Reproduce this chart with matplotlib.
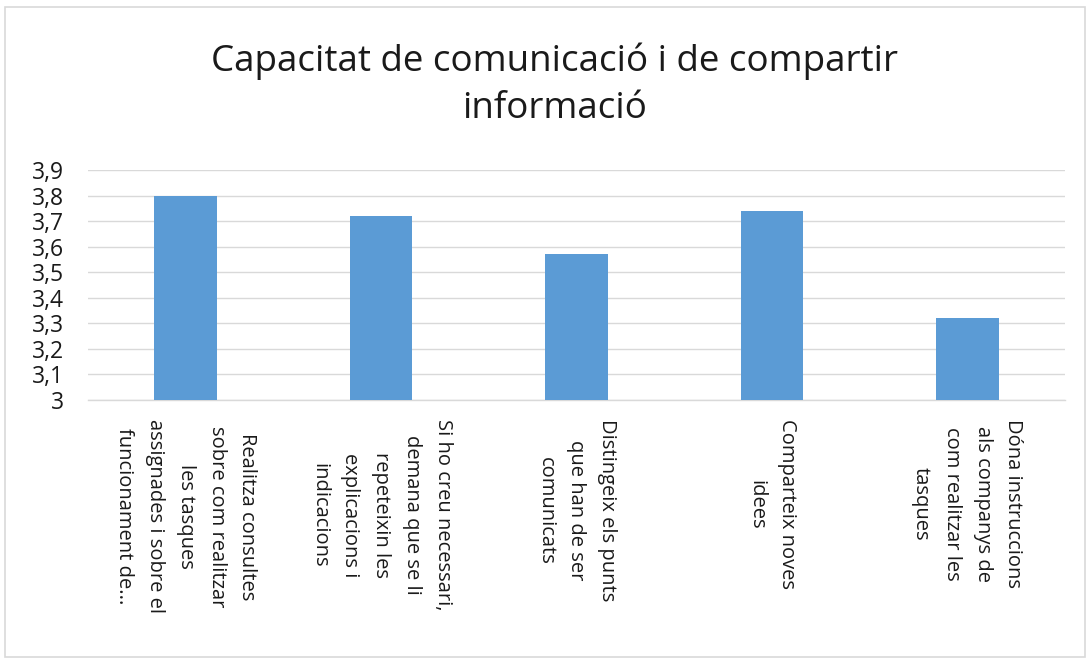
import matplotlib
matplotlib.use("Agg")
import matplotlib.pyplot as plt
from matplotlib.patches import Rectangle
from matplotlib.ticker import FuncFormatter

plt.rcParams['font.family'] = ['Open Sans', 'DejaVu Sans']

title = "Capacitat de comunicació i de compartir\ninformació"
categories = [
    "Realitza consultes\nsobre com realitzar\nles tasques\nassignades i sobre el\nfuncionament de...",
    "Si ho creu necessari,\ndemana que se li\nrepeteixin les\nexplicacions i\nindicacions",
    "Distingeix els punts\nque han de ser\ncomunicats",
    "Comparteix noves\nidees",
    "Dóna instruccions\nals companys de\ncom realitzar les\ntasques",
]
values = [3.80, 3.72, 3.57, 3.74, 3.32]
yticks = [3.0, 3.1, 3.2, 3.3, 3.4, 3.5, 3.6, 3.7, 3.8, 3.9]

fig = plt.figure(figsize=(10.9, 6.62), dpi=100)
fig.patches.append(Rectangle((5/1090, 5/662), 1080/1090, 650/662, transform=fig.transFigure,
                             fill=False, edgecolor='#d9d9d9', linewidth=1.2))
ax = fig.add_axes([88/1090, 1 - 400/662, (1065 - 88)/1090, 230/662])

x = range(len(categories))
ax.bar(x, values, width=0.32, color='#5b9bd5', zorder=3)
ax.set_ylim(3, 3.9)
ax.set_xlim(-0.5, len(categories) - 0.5)
ax.set_yticks(yticks)
ax.yaxis.set_major_formatter(FuncFormatter(lambda v, p: ("%g" % round(v, 1)).replace('.', ',')))
ax.grid(axis='y', color='#d9d9d9', linewidth=1.0, zorder=0)
for s in ['top', 'right', 'left']:
    ax.spines[s].set_visible(False)
ax.spines['bottom'].set_color('#d9d9d9')
ax.spines['bottom'].set_linewidth(1.0)
ax.tick_params(axis='y', length=0, pad=17, labelsize=16.5, labelcolor='#1a1a1a')
ax.tick_params(axis='x', length=0, pad=14)
ax.set_xticks(list(x))
ax.set_xticklabels(categories, rotation=-90, ha='center', va='top', fontsize=14.5,
                   multialignment='center', linespacing=1.72, color='#1a1a1a')

fig.text(0.509, 1 - 85/662, title, ha='center', va='center', fontsize=26.5,
         color='#1a1a1a', linespacing=1.42)

fig.savefig('out.png', dpi=100)
